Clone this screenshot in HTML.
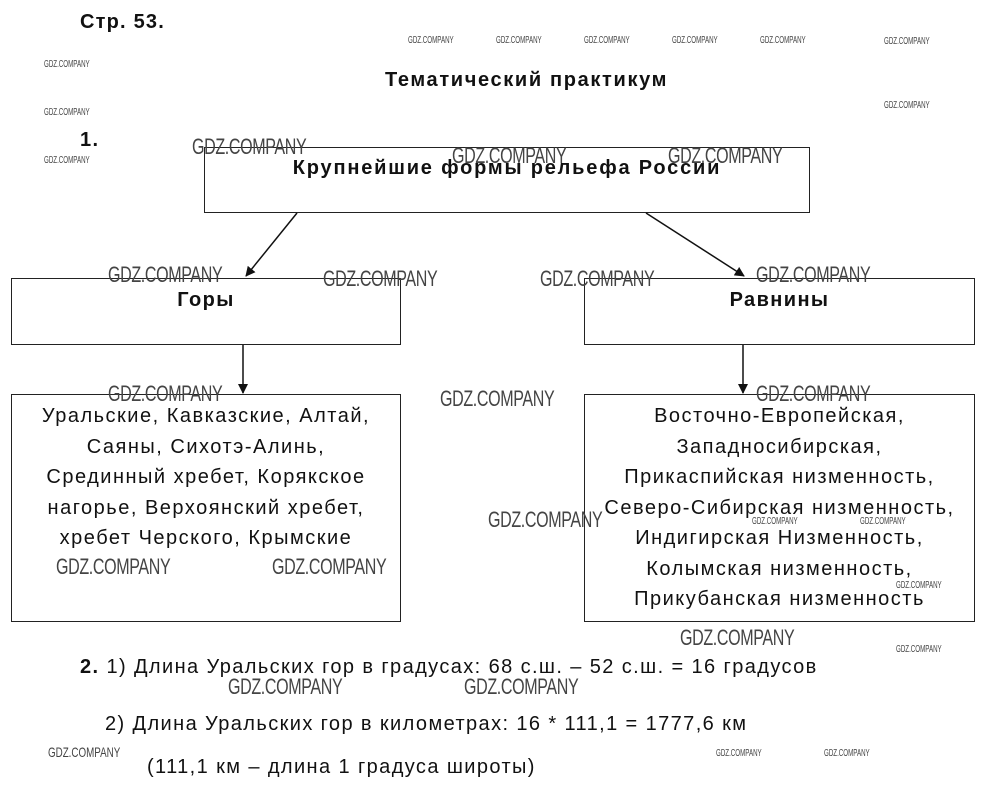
<!DOCTYPE html>
<html><head><meta charset="utf-8"><style>
body{margin:0;width:989px;height:798px;background:#fff;position:relative;overflow:hidden;font-family:"Liberation Sans",sans-serif;color:#111}
.t{position:absolute;white-space:nowrap;letter-spacing:1.4px}
.b{font-weight:bold}
.box{position:absolute;border:1px solid #222;box-sizing:border-box}
.w{position:absolute;font-family:"Liberation Sans",sans-serif;font-size:22px;color:#444;transform:scaleX(0.73);transform-origin:left top;white-space:nowrap;letter-spacing:-0.5px}
.ws{position:absolute;font-family:"Liberation Sans",sans-serif;font-size:10px;color:#444;transform:scaleX(0.62);transform-origin:left top;white-space:nowrap}
.lines{position:absolute;text-align:center;font-size:20px;line-height:30.5px;letter-spacing:1.5px}
</style></head><body>
<div class="t b" style="left:80px;top:11px;font-size:20px;letter-spacing:1.2px">Стр. 53.</div>
<div class="t b" style="left:385px;top:69px;font-size:20px;letter-spacing:1.65px">Тематический практикум</div>
<div class="t b" style="left:80px;top:129px;font-size:20px">1.</div>

<div class="box" style="left:204px;top:147px;width:606px;height:66px"></div>
<div class="t b" style="left:204px;width:606px;top:157px;font-size:20px;text-align:center;letter-spacing:1.8px">Крупнейшие формы рельефа России</div>

<div class="box" style="left:11px;top:278px;width:390px;height:67px"></div>
<div class="t b" style="left:11px;width:390px;top:289px;font-size:20px;text-align:center">Горы</div>
<div class="box" style="left:584px;top:278px;width:391px;height:67px"></div>
<div class="t b" style="left:584px;width:391px;top:289px;font-size:20px;text-align:center">Равнины</div>

<div class="box" style="left:11px;top:394px;width:390px;height:228px"></div>
<div class="lines" style="left:11px;width:390px;top:401px">Уральские, Кавказские, Алтай,<br>Саяны, Сихотэ-Алинь,<br>Срединный хребет, Корякское<br>нагорье, Верхоянский хребет,<br>хребет Черского, Крымские</div>
<div class="box" style="left:584px;top:394px;width:391px;height:228px"></div>
<div class="lines" style="left:584px;width:391px;top:401px">Восточно-Европейская,<br>Западносибирская,<br>Прикаспийская низменность,<br>Северо-Сибирская низменность,<br>Индигирская Низменность,<br>Колымская низменность,<br>Прикубанская низменность</div>

<svg style="position:absolute;left:0;top:0" width="989" height="798">
<defs><marker id="a" markerWidth="10" markerHeight="10" refX="9" refY="5" orient="auto" markerUnits="userSpaceOnUse"><path d="M0,0 L10,5 L0,10 z" fill="#111"/></marker></defs>
<line x1="297" y1="213" x2="246" y2="276" stroke="#111" stroke-width="1.5" marker-end="url(#a)"/>
<line x1="646" y1="213" x2="744" y2="276" stroke="#111" stroke-width="1.5" marker-end="url(#a)"/>
<line x1="243" y1="345" x2="243" y2="393" stroke="#111" stroke-width="1.5" marker-end="url(#a)"/>
<line x1="743" y1="345" x2="743" y2="393" stroke="#111" stroke-width="1.5" marker-end="url(#a)"/>
</svg>

<div class="t" style="left:80px;top:656px;font-size:20px"><b>2.</b> 1) Длина Уральских гор в градусах: 68 с.ш. – 52 с.ш. = 16 градусов</div>
<div class="t" style="left:105px;top:713px;font-size:20px">2) Длина Уральских гор в километрах: 16 * 111,1 = 1777,6 км</div>
<div class="t" style="left:147px;top:756px;font-size:20px">(111,1 км – длина 1 градуса широты)</div>

<div class="w" style="left:192px;top:134px">GDZ.COMPANY</div>
<div class="w" style="left:452px;top:143px">GDZ.COMPANY</div>
<div class="w" style="left:668px;top:143px">GDZ.COMPANY</div>
<div class="w" style="left:108px;top:262px">GDZ.COMPANY</div>
<div class="w" style="left:323px;top:266px">GDZ.COMPANY</div>
<div class="w" style="left:540px;top:266px">GDZ.COMPANY</div>
<div class="w" style="left:756px;top:262px">GDZ.COMPANY</div>
<div class="w" style="left:108px;top:381px">GDZ.COMPANY</div>
<div class="w" style="left:440px;top:386px">GDZ.COMPANY</div>
<div class="w" style="left:756px;top:381px">GDZ.COMPANY</div>
<div class="w" style="left:488px;top:507px">GDZ.COMPANY</div>
<div class="w" style="left:56px;top:554px">GDZ.COMPANY</div>
<div class="w" style="left:272px;top:554px">GDZ.COMPANY</div>
<div class="w" style="left:680px;top:625px">GDZ.COMPANY</div>
<div class="w" style="left:228px;top:674px">GDZ.COMPANY</div>
<div class="w" style="left:464px;top:674px">GDZ.COMPANY</div>

<div class="ws" style="left:408px;top:35px">GDZ.COMPANY</div>
<div class="ws" style="left:496px;top:35px">GDZ.COMPANY</div>
<div class="ws" style="left:584px;top:35px">GDZ.COMPANY</div>
<div class="ws" style="left:672px;top:35px">GDZ.COMPANY</div>
<div class="ws" style="left:760px;top:35px">GDZ.COMPANY</div>
<div class="ws" style="left:884px;top:36px">GDZ.COMPANY</div>
<div class="ws" style="left:44px;top:59px">GDZ.COMPANY</div>
<div class="ws" style="left:44px;top:107px">GDZ.COMPANY</div>
<div class="ws" style="left:884px;top:100px">GDZ.COMPANY</div>
<div class="ws" style="left:44px;top:155px">GDZ.COMPANY</div>
<div class="ws" style="left:752px;top:516px">GDZ.COMPANY</div>
<div class="ws" style="left:860px;top:516px">GDZ.COMPANY</div>
<div class="ws" style="left:896px;top:580px">GDZ.COMPANY</div>
<div class="ws" style="left:896px;top:644px">GDZ.COMPANY</div>
<div class="ws" style="left:48px;top:744px;font-size:14px;transform:scaleX(0.7)">GDZ.COMPANY</div>
<div class="ws" style="left:716px;top:748px">GDZ.COMPANY</div>
<div class="ws" style="left:824px;top:748px">GDZ.COMPANY</div>
</body></html>
